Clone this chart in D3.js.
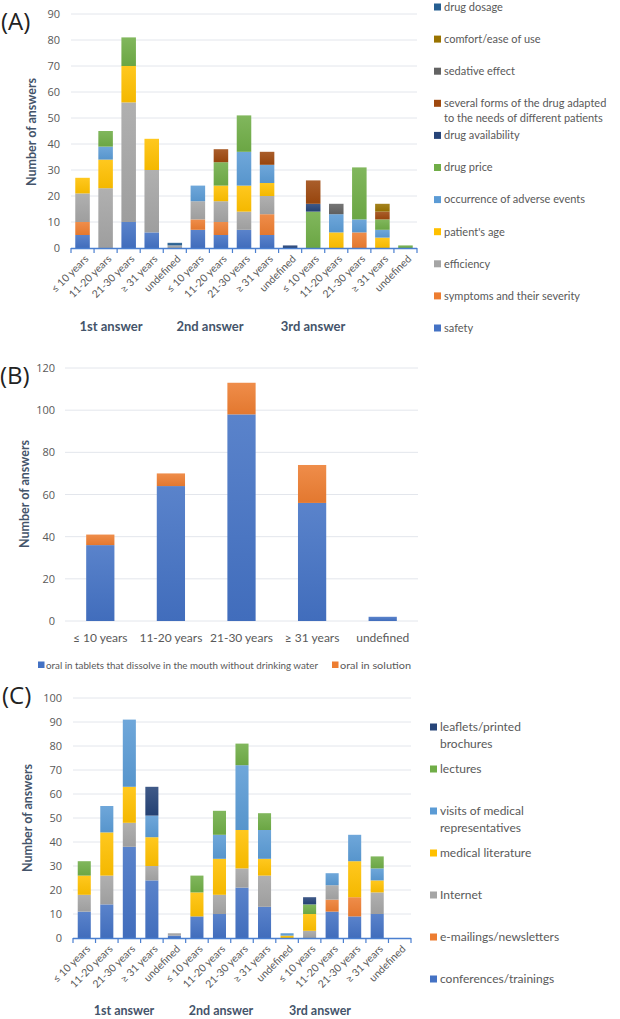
<!DOCTYPE html>
<html>
<head>
<meta charset="utf-8">
<script src="https://cdnjs.cloudflare.com/ajax/libs/d3/7.8.5/d3.min.js"></script>
<style>
  body { margin: 0; background: #fff; }
  svg { display: block; font-family: Lato, "Open Sans", sans-serif; }
</style>
</head>
<body>
<div id="chart"></div>
<script>
// ---- data ----
const ages = ['≤ 10 years', '11-20 years', '21-30 years', '≥ 31 years', 'undefined'];
const answers = ['1st answer', '2nd answer', '3rd answer'];

// panel A: factors (stack order bottom -> top), 15 values = 3 answers x 5 age groups
const factorNames = ['safety', 'symptoms and their severity', 'efficiency', "patient's age",
  'occurrence of adverse events', 'drug price', 'drug availability',
  'several forms of the drug adapted to the needs of different patients',
  'sedative effect', 'comfort/ease of use', 'drug dosage'];
const safety       = [5, 0, 10, 6, 0,  7, 5, 7, 5, 0,  0, 0, 0, 0, 0];
const symptoms     = [5, 0, 0, 0, 0,   4, 5, 0, 8, 0,  0, 0, 6, 0, 0];
const efficiency   = [11, 23, 46, 24, 1, 7, 8, 7, 7, 0, 0, 0, 0, 0, 0];
const patientAge   = [6, 11, 14, 12, 0, 0, 6, 10, 5, 0, 0, 6, 0, 4, 0];
const adverse      = [0, 5, 0, 0, 0,   6, 0, 13, 7, 0, 0, 7, 5, 3, 0];
const drugPrice    = [0, 6, 11, 0, 0,  0, 9, 14, 0, 0, 14, 0, 20, 4, 1];
const availability = [0, 0, 0, 0, 0,   0, 0, 0, 0, 1,  3, 0, 0, 0, 0];
const severalForms = [0, 0, 0, 0, 0,   0, 5, 0, 5, 0,  9, 0, 0, 3, 0];
const sedative     = [0, 0, 0, 0, 0,   0, 0, 0, 0, 0,  0, 4, 0, 0, 0];
const comfort      = [0, 0, 0, 0, 0,   0, 0, 0, 0, 0,  0, 0, 0, 3, 0];
const dosage       = [0, 0, 0, 0, 1,   0, 0, 0, 0, 0,  0, 0, 0, 0, 0];
const factorValues = [safety, symptoms, efficiency, patientAge, adverse, drugPrice,
  availability, severalForms, sedative, comfort, dosage];
const factorColors = ['#4472C4', '#ED7D31', '#A5A5A5', '#FFC000', '#5B9BD5', '#70AD47',
  '#264478', '#9E480E', '#636363', '#997300', '#255E91'];
const factorTicks = [0, 10, 20, 30, 40, 50, 60, 70, 80, 90];

// panel B: drug form
const formNames = ['oral in tablets that dissolve in the mouth without drinking water', 'oral in solution'];
const tablets  = [36, 64, 98, 56, 2];
const solution = [5, 6, 15, 18, 0];
const formColors = ['#4472C4', '#ED7D31'];
const formTicks = [0, 20, 40, 60, 80, 100, 120];

// panel C: information sources
const sourceNames = ['conferences/trainings', 'e-mailings/newsletters', 'Internet', 'medical literature',
  'visits of medical representatives', 'lectures', 'leaflets/printed brochures'];
const conferences = [11, 14, 38, 24, 1,  9, 10, 21, 13, 0,  0, 11, 9, 10, 0];
const emailings   = [0, 0, 0, 0, 0,      0, 0, 0, 0, 0,     0, 5, 8, 0, 0];
const internet    = [7, 12, 10, 6, 1,    0, 8, 8, 13, 0,    3, 6, 0, 9, 0];
const literature  = [8, 18, 15, 12, 0,   10, 15, 16, 7, 1,  7, 0, 15, 5, 0];
const visits      = [0, 11, 28, 9, 0,    0, 10, 27, 12, 1,  0, 5, 11, 5, 0];
const lectures    = [6, 0, 0, 0, 0,      7, 10, 9, 7, 0,    4, 0, 0, 5, 0];
const leaflets    = [0, 0, 0, 12, 0,     0, 0, 0, 0, 0,     3, 0, 0, 0, 0];
const sourceValues = [conferences, emailings, internet, literature, visits, lectures, leaflets];
const sourceColors = ['#4472C4', '#ED7D31', '#A5A5A5', '#FFC000', '#5B9BD5', '#70AD47', '#264478'];
const sourceTicks = [0, 10, 20, 30, 40, 50, 60, 70, 80, 90, 100];

// ---- styles ----
const TEXT = '#595959';
const TITLE = '#44546A';
const GRID = '#E3E6EC';
const AXIS = '#4A7FD0';

const svg = d3.select('#chart').append('svg')
  .attr('width', 620).attr('height', 1019);

const defs = svg.append('defs');
function grad(color) {
  const id = 'g' + color.slice(1);
  if (defs.select('#' + id).empty()) {
    const lg = defs.append('linearGradient').attr('id', id)
      .attr('x1', 0).attr('y1', 0).attr('x2', 0).attr('y2', 1);
    lg.append('stop').attr('offset', 0).attr('stop-color', d3.interpolateRgb(color, '#fff')(0.12));
    lg.append('stop').attr('offset', 1).attr('stop-color', d3.color(color).darker(0.12));
  }
  return `url(#${id})`;
}

function panelLetter(txt, x, y) {
  svg.append('text').attr('x', x).attr('y', y)
    .style('font-family', '"Open Sans", sans-serif')
    .style('font-size', '24px').style('fill', '#222').text(txt);
}

function yTitle(x, y) {
  svg.append('text')
    .attr('transform', `translate(${x},${y}) rotate(-90)`)
    .attr('text-anchor', 'middle')
    .style('font-size', '12.5px').style('font-weight', 700)
    .style('fill', TITLE).text('Number of answers');
}

// stacked chart with grouped category axis (panels A and C)
function stackedPanel(cfg) {
  const g = svg.append('g');
  const cats = [];
  answers.forEach(a => ages.forEach(age => cats.push(a + '|' + age)));

  const x = d3.scaleBand().domain(cats).range([cfg.x0, cfg.x1]).paddingInner(cfg.pad).paddingOuter(cfg.pad / 2);
  const y = d3.scaleLinear().domain([0, cfg.yMax]).range([cfg.y0, cfg.y1]);

  // grid
  g.append('g').selectAll('line').data(cfg.ticks.slice(1)).join('line')
    .attr('x1', cfg.x0).attr('x2', cfg.x1)
    .attr('y1', d => y(d)).attr('y2', d => y(d))
    .attr('stroke', GRID).attr('stroke-width', 1);

  const yAxis = g.append('g').attr('transform', `translate(${cfg.x0 - 11},0)`)
    .call(d3.axisLeft(y).tickValues(cfg.ticks).tickSize(0).tickPadding(0));
  yAxis.select('.domain').remove();
  yAxis.selectAll('text').style('font-size', '11px').style('fill', TEXT)
    .style('font-family', '"Open Sans", sans-serif');

  const rows = cats.map((c, i) => {
    const r = { cat: c };
    cfg.names.forEach((n, k) => r[n] = cfg.values[k][i]);
    return r;
  });
  const stacked = d3.stack().keys(cfg.names)(rows);

  g.append('g').selectAll('g').data(stacked).join('g')
    .attr('fill', (d, k) => grad(cfg.colors[k]))
    .selectAll('rect').data(d => d.filter(p => p[1] > p[0])).join('rect')
    .attr('x', d => x(d.data.cat))
    .attr('width', x.bandwidth())
    .attr('y', d => y(d[1]))
    .attr('height', d => y(d[0]) - y(d[1]));

  // category axis
  const step = (cfg.x1 - cfg.x0) / cats.length;
  g.append('line').attr('x1', cfg.x0).attr('x2', cfg.x1)
    .attr('y1', cfg.y0 + 0.5).attr('y2', cfg.y0 + 0.5)
    .attr('stroke', AXIS).attr('stroke-width', 1.5);
  g.append('g').selectAll('line').data(d3.range(cats.length + 1)).join('line')
    .attr('x1', i => cfg.x0 + i * step).attr('x2', i => cfg.x0 + i * step)
    .attr('y1', cfg.y0).attr('y2', cfg.y0 + 5)
    .attr('stroke', AXIS).attr('stroke-width', 1.2);

  g.append('g').selectAll('text').data(cats).join('text')
    .attr('transform', d => `translate(${x(d) + x.bandwidth() / 2 + 4},${cfg.y0 + 9}) rotate(-45)`)
    .attr('text-anchor', 'end')
    .attr('dy', '0.35em')
    .style('font-size', '10.5px').style('fill', TEXT)
    .text(d => d.split('|')[1]);

  g.append('g').selectAll('text').data(answers).join('text')
    .attr('x', (d, i) => cfg.groupX[i]).attr('y', cfg.groupY)
    .attr('text-anchor', 'middle')
    .style('font-size', cfg.groupFont).style('font-weight', 700).style('fill', TITLE)
    .text(d => d);

  // legend, reversed like the stack
  const leg = g.append('g');
  const items = cfg.names.map((n, k) => ({ n, k })).reverse();
  items.forEach((it, j) => {
    const yy = cfg.legY0 + j * cfg.legStep;
    leg.append('rect').attr('x', cfg.legX).attr('y', yy - 3.5)
      .attr('width', 7).attr('height', 7).attr('fill', cfg.colors[it.k]);
    const lines = cfg.legendLines[it.n] || [it.n];
    const t = leg.append('text').attr('x', cfg.legX + 10).attr('y', yy)
      .style('font-size', cfg.legFont).style('fill', TEXT);
    lines.forEach((ln, li) => t.append('tspan').attr('x', cfg.legX + 10)
      .attr('dy', li === 0 ? '0.35em' : cfg.legLine).text(ln));
  });
}

// ---- panel A ----
panelLetter('(A)', 1, 30);
yTitle(36, 132);
stackedPanel({
  names: factorNames, values: factorValues, colors: factorColors,
  x0: 71, x1: 417, y0: 248, y1: 14, yMax: 90, ticks: factorTicks, pad: 0.37,
  groupX: [111, 210, 313], groupY: 331, groupFont: '13px',
  legX: 434, legY0: 7, legStep: 32.1, legFont: '11px', legLine: '15px',
  legendLines: {
    'several forms of the drug adapted to the needs of different patients':
      ['several forms of the drug adapted', 'to the needs of different patients']
  }
});

// ---- panel B ----
panelLetter('(B)', 0, 384);
yTitle(29, 494);
{
  const g = svg.append('g');
  const x = d3.scaleBand().domain(ages).range([65, 418]).paddingInner(0.6).paddingOuter(0.3);
  const y = d3.scaleLinear().domain([0, 120]).range([621, 368]);

  g.append('g').selectAll('line').data(formTicks).join('line')
    .attr('x1', 65).attr('x2', 418)
    .attr('y1', d => y(d)).attr('y2', d => y(d))
    .attr('stroke', GRID).attr('stroke-width', 1);

  const yAxis = g.append('g').attr('transform', 'translate(55,0)')
    .call(d3.axisLeft(y).tickValues(formTicks).tickSize(0).tickPadding(0));
  yAxis.select('.domain').remove();
  yAxis.selectAll('text').style('font-size', '11px').style('fill', TEXT)
    .style('font-family', '"Open Sans", sans-serif');

  const rows = ages.map((a, i) => ({ age: a, [formNames[0]]: tablets[i], [formNames[1]]: solution[i] }));
  const stacked = d3.stack().keys(formNames)(rows);
  g.append('g').selectAll('g').data(stacked).join('g')
    .attr('fill', (d, k) => grad(formColors[k]))
    .selectAll('rect').data(d => d.filter(p => p[1] > p[0])).join('rect')
    .attr('x', d => x(d.data.age)).attr('width', x.bandwidth())
    .attr('y', d => y(d[1])).attr('height', d => y(d[0]) - y(d[1]));

  g.append('g').selectAll('text').data(ages).join('text')
    .attr('x', d => x(d) + x.bandwidth() / 2).attr('y', 638)
    .attr('dy', '0.35em').attr('text-anchor', 'middle')
    .style('font-size', '12px').style('fill', TEXT).text(d => d);

  const legX = [38, 332];
  const legW = [272, 71];
  formNames.forEach((n, k) => {
    g.append('rect').attr('x', legX[k]).attr('y', 661.5).attr('width', 6.5).attr('height', 6.5)
      .attr('fill', formColors[k]);
    g.append('text').attr('x', legX[k] + 8).attr('y', 665).attr('dy', '0.35em')
      .attr('textLength', legW[k]).attr('lengthAdjust', 'spacingAndGlyphs')
      .style('font-size', '10px').style('fill', TEXT).text(n);
  });
}

// ---- panel C ----
panelLetter('(C)', 2, 704);
yTitle(32, 818);
stackedPanel({
  names: sourceNames, values: sourceValues, colors: sourceColors,
  x0: 73, x1: 411, y0: 938, y1: 698, yMax: 100, ticks: sourceTicks, pad: 0.42,
  groupX: [124, 221, 320], groupY: 1015, groupFont: '12.5px',
  legX: 430, legY0: 727, legStep: 42, legFont: '12px', legLine: '17px',
  legendLines: {
    'leaflets/printed brochures': ['leaflets/printed', 'brochures'],
    'visits of medical representatives': ['visits of medical', 'representatives']
  }
});
</script>
</body>
</html>
